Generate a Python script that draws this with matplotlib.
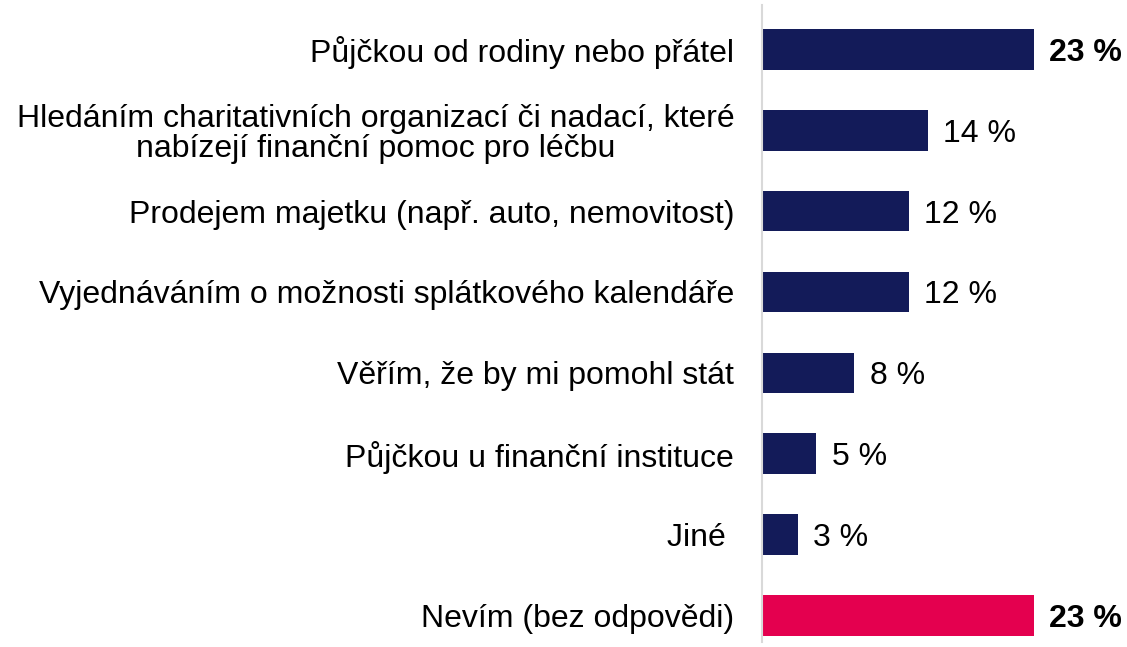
import matplotlib
matplotlib.use("Agg")
import matplotlib.pyplot as plt

plt.rcParams.update({
    "font.family": ["Liberation Sans", "DejaVu Sans"],
    "font.size": 23,
})

categories = [
    "Půjčkou od rodiny nebo přátel",
    "Hledáním charitativních organizací či nadací, které\nnabízejí finanční pomoc pro léčbu",
    "Prodejem majetku (např. auto, nemovitost)",
    "Vyjednáváním o možnosti splátkového kalendáře",
    "Věřím, že by mi pomohl stát",
    "Půjčkou u finanční instituce",
    "Jiné ",
    "Nevím (bez odpovědi)",
]
values = [23.0, 14.0, 12.4, 12.4, 7.8, 4.6, 3.0, 23.0]
labels = ["23 %", "14 %", "12 %", "12 %", "8 %", "5 %", "3 %", "23 %"]
bold = [True, False, False, False, False, False, False, True]

navy = "#131b59"
pink = "#e4004f"
colors = [navy] * 7 + [pink]

fig = plt.figure(figsize=(11.27, 6.47), dpi=100)
ax = fig.add_axes([762 / 1127, 5 / 647, 355 / 1127, 637 / 647])

y = list(range(len(categories)))
ax.barh(y, values, height=0.5, color=colors)

for yi, v, lab, b in zip(y, values, labels, bold):
    ax.annotate(lab, (v, yi), xytext=(11, 0), textcoords="offset points",
                va="center_baseline", ha="left", fontsize=23,
                fontweight="bold" if b else "normal", color="black")

ax.set_xlim(0, 30)
ax.set_ylim(7.33, -0.55)
ax.set_yticks(y)
ax.set_yticklabels(categories, ha="right", multialignment="center",
                   linespacing=1.0, va="center_baseline")
ax.tick_params(axis="y", length=0, pad=20)
ax.set_xticks([])
for s in ["top", "right", "bottom"]:
    ax.spines[s].set_visible(False)
ax.spines["left"].set_color("#d9d9d9")
ax.spines["left"].set_linewidth(1.5)

fig.savefig("out.png", dpi=100)
